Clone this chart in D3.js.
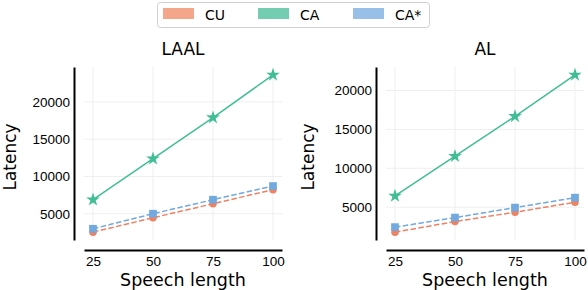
<!DOCTYPE html>
<html>
<head>
<meta charset="utf-8">
<script src="https://cdn.jsdelivr.net/npm/d3@7"></script>
<style>
  body { margin: 0; background: #fff; }
  svg { display: block; font-family: "DejaVu Sans", sans-serif; }
</style>
</head>
<body>
<svg id="chart"></svg>
<script>
// speech lengths on the x axis
let lengths = [25, 50, 75, 100]
let yTicks = [5000, 10000, 15000, 20000]

// LAAL panel
let laalCU = [2530, 4460, 6340, 8230]
let laalCA = [6880, 12390, 17900, 23630]
let laalCAstar = [2980, 5000, 6880, 8710]

// AL panel
let alCU = [1800, 3160, 4360, 5640]
let alCA = [6450, 11560, 16680, 22010]
let alCAstar = [2440, 3670, 4950, 6230]

let seriesNames = ['CU', 'CA', 'CA*']
let lineColors = ['#ee8162', '#41be95', '#72a9de']
let patchColors = ['#f4a68b', '#74cdb1', '#97bfe8']

let width = 588
let height = 290

let svg = d3.select('#chart').attr('width', width).attr('height', height)

let panels = [
    { title: 'LAAL', series: [laalCU, laalCA, laalCAstar], left: 84, yAxisX: 74, labelX: 16 },
    { title: 'AL', series: [alCU, alCA, alCAstar], left: 386, yAxisX: 376, labelX: 314 }
]

let plotW = 198
let plotTop = 67
let plotBottom = 240

let drawPanel = (p) => {
    let all = p.series.flat()
    let lo = d3.min(all), hi = d3.max(all)
    let m = (hi - lo) * 0.05

    let xScale = d3.scaleLinear()
        .domain([25 - 3.75, 100 + 3.75])
        .range([p.left, p.left + plotW])
    let yScale = d3.scaleLinear()
        .domain([lo - m, hi + m])
        .range([plotBottom, plotTop])

    let g = svg.append('g')

    // grid
    g.selectAll('.vgrid').data(lengths).enter().append('line')
        .attr('x1', d => xScale(d)).attr('x2', d => xScale(d))
        .attr('y1', plotTop).attr('y2', plotBottom)
        .attr('stroke', '#efefef').attr('stroke-width', 1)
    g.selectAll('.hgrid').data(yTicks).enter().append('line')
        .attr('x1', p.left).attr('x2', p.left + plotW)
        .attr('y1', d => yScale(d)).attr('y2', d => yScale(d))
        .attr('stroke', '#efefef').attr('stroke-width', 1)

    // axes, offset from the plot like sns.despine(offset=10)
    let xAxis = d3.axisBottom(xScale).tickValues(lengths).tickSize(0).tickPadding(6)
    let gx = g.append('g')
        .attr('transform', 'translate(0,' + (plotBottom + 10) + ')')
        .call(xAxis)
    let yAxis = d3.axisLeft(yScale).tickValues(yTicks).tickFormat(d3.format('d')).tickSize(0).tickPadding(4)
    let gy = g.append('g')
        .attr('transform', 'translate(' + p.yAxisX + ',0)')
        .call(yAxis)

    ;[gx, gy].forEach(a => {
        a.select('.domain').attr('stroke', '#000').attr('stroke-width', 2)
        a.selectAll('text').attr('fill', '#000').style('font-size', '13.5px')
    })

    // lines and markers
    let line = d3.line().x((d, i) => xScale(lengths[i])).y(d => yScale(d))
    let symbols = [d3.symbolCircle, d3.symbolStar, d3.symbolSquare]
    let sizes = [44, 58, 60]

    p.series.forEach((vals, k) => {
        g.append('path')
            .attr('d', line(vals))
            .attr('fill', 'none')
            .attr('stroke', lineColors[k])
            .attr('stroke-width', 1.5)
            .attr('stroke-dasharray', k == 1 ? null : '5.5,2.4')
        g.selectAll('.m' + k).data(vals).enter().append('path')
            .attr('d', d3.symbol().type(symbols[k]).size(sizes[k]))
            .attr('transform', (d, i) => 'translate(' + xScale(lengths[i]) + ',' + yScale(d) + ')')
            .attr('fill', lineColors[k])
    })

    // title and labels
    let cx = p.left + plotW / 2
    g.append('text').text(p.title)
        .attr('x', cx).attr('y', 55)
        .attr('text-anchor', 'middle')
        .style('font-size', '17px')
    g.append('text').text('Speech length')
        .attr('x', cx).attr('y', 286)
        .attr('text-anchor', 'middle')
        .style('font-size', '17.5px')
    g.append('text').text('Latency')
        .attr('transform', 'translate(' + p.labelX + ',157) rotate(-90)')
        .attr('text-anchor', 'middle')
        .style('font-size', '17px')
}

panels.forEach(drawPanel)

// legend
let legend = svg.append('g')
legend.append('rect')
    .attr('x', 157.5).attr('y', 2.5).attr('width', 272).attr('height', 25)
    .attr('rx', 3).attr('fill', '#fff').attr('stroke', '#d0d0d0')
let legendX = [163, 258, 353]
seriesNames.forEach((name, k) => {
    legend.append('rect')
        .attr('x', legendX[k]).attr('y', 8).attr('width', 31).attr('height', 11)
        .attr('fill', patchColors[k])
    legend.append('text').text(name)
        .attr('x', legendX[k] + 42).attr('y', 19.5)
        .style('font-size', '14px')
})
</script>
</body>
</html>
